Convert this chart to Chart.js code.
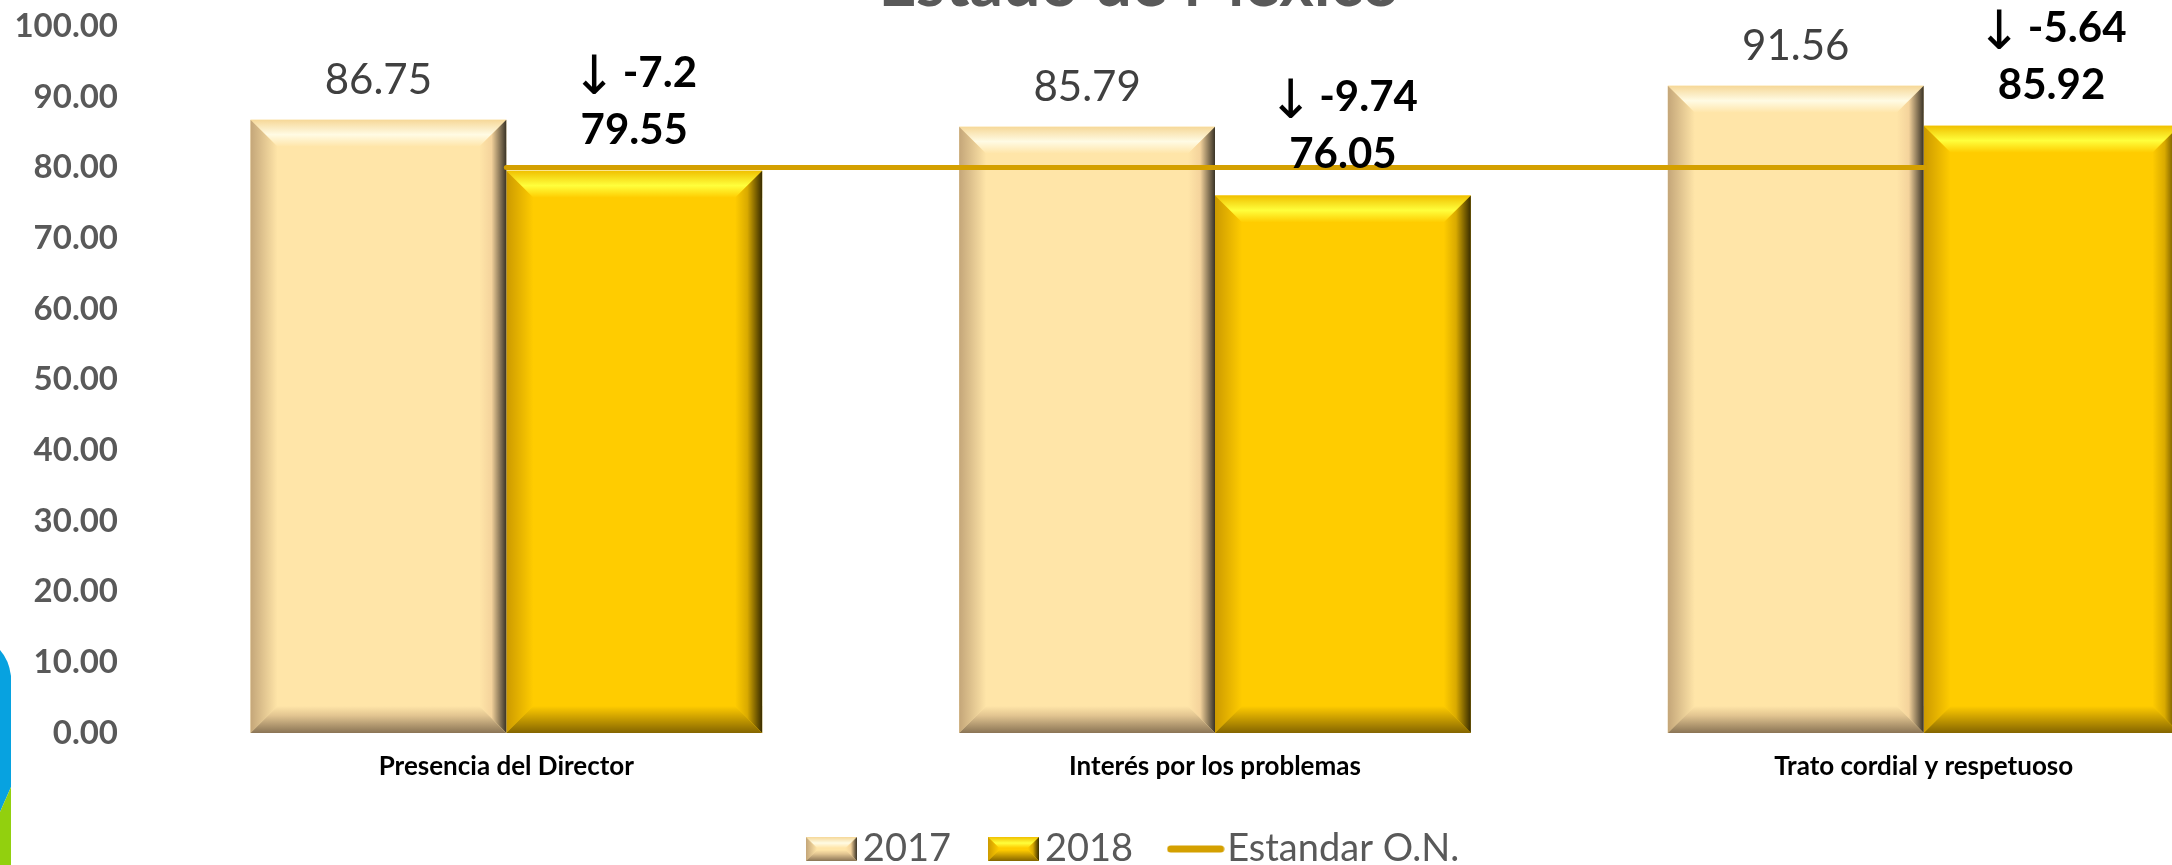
<!DOCTYPE html>
<html>
<head>
<meta charset="utf-8">
<script src="https://cdn.jsdelivr.net/npm/chart.js@4.4.1/dist/chart.umd.min.js"></script>
<style>
  html, body { margin: 0; padding: 0; background: #fff; }
  body { width: 2172px; height: 865px; overflow: hidden; position: relative; }
  #c { position: absolute; left: 0; top: -55px; }
</style>
</head>
<body>
<canvas id="c" width="2290" height="933"></canvas>
<script>
// values
const categories = ['Presencia del Director', 'Interés por los problemas', 'Trato cordial y respetuoso'];
const values2017 = [86.75, 85.79, 91.56];
const values2018 = [79.55, 76.05, 85.92];
const estandar = [80, 80, 80];
const seriesNames = ['2017', '2018', 'Estandar O.N.'];
const yTicks = [0, 10, 20, 30, 40, 50, 60, 70, 80, 90, 100];

const OFFSET_Y = 55; // canvas sits 55px above the page, title is cut off like the original

const palettes = [
  { face: '#FFE5A8', top0: '#F6D898', top1: '#FFFBE4', left0: '#C4A679', rightMid: '#F4D39C', right0: '#3A3326', bottomMid: '#E2C591', bottom0: '#8A7455' },
  { face: '#FFCC00', top0: '#F0C000', top1: '#FFFF3C', left0: '#CC9A00', rightMid: '#D9AA00', right0: '#382C00', bottomMid: '#D6A800', bottom0: '#846500' }
];

function poly(ctx, pts, fill) {
  ctx.beginPath();
  ctx.moveTo(pts[0][0], pts[0][1]);
  for (let i = 1; i < pts.length; i++) ctx.lineTo(pts[i][0], pts[i][1]);
  ctx.closePath();
  ctx.fillStyle = fill;
  ctx.fill();
}

function drawBevel(ctx, L, T, R, B, d, p) {
  const dd = Math.min(d, (R - L) / 2, (B - T) / 2);
  let g = ctx.createLinearGradient(0, T, 0, T + dd);
  g.addColorStop(0, p.top0); g.addColorStop(0.55, p.top1); g.addColorStop(1, p.face);
  poly(ctx, [[L, T], [R, T], [R - dd, T + dd], [L + dd, T + dd]], g);
  g = ctx.createLinearGradient(L, 0, L + dd, 0);
  g.addColorStop(0, p.left0); g.addColorStop(1, p.face);
  poly(ctx, [[L, T], [L + dd, T + dd], [L + dd, B - dd], [L, B]], g);
  g = ctx.createLinearGradient(R - dd, 0, R, 0);
  g.addColorStop(0, p.face); g.addColorStop(0.45, p.rightMid); g.addColorStop(1, p.right0);
  poly(ctx, [[R, T], [R, B], [R - dd, B - dd], [R - dd, T + dd]], g);
  g = ctx.createLinearGradient(0, B - dd, 0, B);
  g.addColorStop(0, p.face); g.addColorStop(0.35, p.bottomMid); g.addColorStop(1, p.bottom0);
  poly(ctx, [[L, B], [L + dd, B - dd], [R - dd, B - dd], [R, B]], g);
}

// legend icons
function bevelIcon(p) {
  const cv = document.createElement('canvas');
  cv.width = 51; cv.height = 24;
  const c = cv.getContext('2d');
  c.fillStyle = p.face;
  c.fillRect(0, 0, 51, 24);
  drawBevel(c, 0, 0, 51, 24, 11, p);
  return cv;
}
function lineIcon() {
  const cv = document.createElement('canvas');
  cv.width = 58; cv.height = 10;
  const c = cv.getContext('2d');
  c.strokeStyle = '#D4A000';
  c.lineWidth = 7;
  c.lineCap = 'round';
  c.beginPath(); c.moveTo(4, 5); c.lineTo(54, 5); c.stroke();
  return cv;
}
const legendIcons = [bevelIcon(palettes[0]), bevelIcon(palettes[1]), lineIcon()];

const bevelPlugin = {
  id: 'bevel',
  afterDatasetDraw(chart, args) {
    const meta = args.meta;
    if (meta.type !== 'bar') return;
    const p = palettes[args.index];
    const ctx = chart.ctx;
    ctx.save();
    meta.data.forEach(bar => {
      const { x, y, base, width } = bar.getProps(['x', 'y', 'base', 'width'], true);
      drawBevel(ctx, x - width / 2, y, x + width / 2, base, 27, p);
    });
    ctx.restore();
  }
};

const labelPlugin = {
  id: 'barLabels',
  afterDatasetsDraw(chart) {
    const ctx = chart.ctx;
    ctx.save();
    ctx.textBaseline = 'alphabetic';
    chart.getDatasetMeta(0).data.forEach((bar, i) => {
      ctx.textAlign = 'center';
      ctx.font = '42px Lato, "DejaVu Sans"';
      ctx.fillStyle = '#404040';
      ctx.fillText(values2017[i].toFixed(2), bar.x, bar.y - 26);
    });
    chart.getDatasetMeta(1).data.forEach((bar, i) => {
      const diff = parseFloat((values2018[i] - values2017[i]).toFixed(2));
      ctx.fillStyle = '#000';
      ctx.textAlign = 'center';
      ctx.font = 'bold 42px Lato, "DejaVu Sans"';
      ctx.fillText(values2018[i].toFixed(2), bar.x, bar.y - 27);
      // arrow + difference on the line above
      const txt = String(diff);
      const arrow = diff < 0 ? '\u2193' : '\u2191';
      const tw = ctx.measureText(txt).width;
      ctx.font = '54px "DejaVu Sans"';
      const aw = ctx.measureText(arrow).width;
      const gap = 6;
      const x0 = bar.x - (aw + gap + tw) / 2;
      ctx.textAlign = 'left';
      ctx.fillText(arrow, x0, bar.y - 77);
      ctx.font = 'bold 42px Lato, "DejaVu Sans"';
      ctx.fillText(txt, x0 + aw + gap, bar.y - 84);
    });
    ctx.restore();
  }
};

const decoPlugin = {
  id: 'deco',
  beforeDraw(chart) {
    const ctx = chart.ctx;
    const o = OFFSET_Y;
    ctx.save();
    ctx.fillStyle = '#07A2E0';
    ctx.beginPath();
    ctx.moveTo(0, 650 + o);
    ctx.quadraticCurveTo(9, 660 + o, 11, 676 + o);
    ctx.lineTo(11, 787 + o);
    ctx.lineTo(0, 812 + o);
    ctx.closePath();
    ctx.fill();
    ctx.fillStyle = '#92D00E';
    ctx.beginPath();
    ctx.moveTo(0, 812 + o);
    ctx.lineTo(11, 787 + o);
    ctx.lineTo(11, 865 + o);
    ctx.lineTo(0, 865 + o);
    ctx.closePath();
    ctx.fill();
    ctx.restore();
  }
};

new Chart(document.getElementById('c'), {
  type: 'bar',
  data: {
    labels: categories,
    datasets: [
      { label: seriesNames[0], data: values2017, backgroundColor: palettes[0].face, borderWidth: 0, order: 1 },
      { label: seriesNames[1], data: values2018, backgroundColor: palettes[1].face, borderWidth: 0, order: 1 },
      { type: 'line', label: seriesNames[2], data: estandar, borderColor: '#D4A000', borderWidth: 5,
        borderCapStyle: 'round', pointRadius: 0, fill: false, order: 0 }
    ]
  },
  options: {
    responsive: false,
    devicePixelRatio: 1,
    animation: false,
    layout: { padding: { left: 0, right: 12, top: 0, bottom: 0 } },
    datasets: { bar: { barPercentage: 1, categoryPercentage: 0.722 } },
    scales: {
      x: {
        grid: { display: false, drawTicks: false },
        border: { display: false },
        ticks: { color: '#000', font: { family: 'Lato', weight: 'bold', size: 26 }, padding: 18 },
        afterFit(scale) { scale.height = 47; }
      },
      y: {
        min: 0, max: 100,
        grid: { display: false, drawTicks: false },
        border: { display: false },
        afterBuildTicks(scale) { scale.ticks = yTicks.map(v => ({ value: v })); },
        ticks: { color: '#595959', font: { family: 'Lato', weight: 'bold', size: 33 }, padding: 34,
          callback: v => Number(v).toFixed(2) },
        afterFit(scale) { scale.width = 152; }
      }
    },
    plugins: {
      tooltip: { enabled: false },
      title: {
        display: true,
        text: 'Estado de México',
        color: '#595959',
        font: { family: 'Lato', weight: 'bold', size: 66, lineHeight: 1.2 },
        padding: { top: 0, bottom: 2 }
      },
      legend: {
        position: 'bottom',
        labels: {
          usePointStyle: true,
          pointStyleWidth: 25,
          padding: 50,
          color: '#595959',
          font: { family: 'Lato', size: 38 },
          generateLabels: (chart) => chart.data.datasets.map((ds, i) => ({
            text: ds.label, datasetIndex: i, pointStyle: legendIcons[i],
            fillStyle: 'transparent', strokeStyle: 'transparent', lineWidth: 0, hidden: false, fontColor: '#595959'
          }))
        }
      }
    }
  },
  plugins: [decoPlugin, bevelPlugin, labelPlugin]
});
</script>
</body>
</html>
